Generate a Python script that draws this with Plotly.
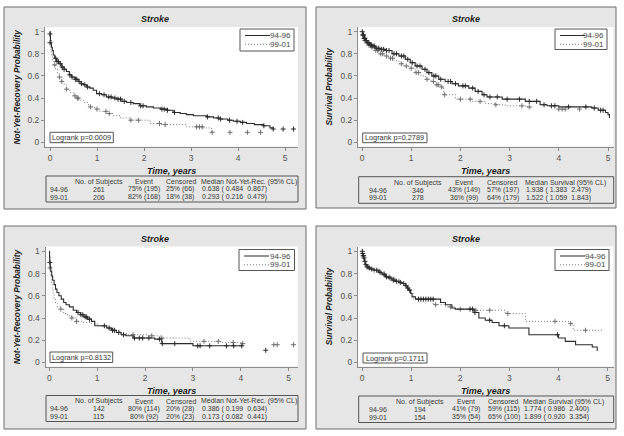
import plotly.graph_objects as go

W, H = 624, 436
FONT = "Liberation Sans, Arial, sans-serif"

# ---------------- data ----------------
groups = ["94-96", "99-01"]
titles = ["Stroke", "Stroke", "Stroke", "Stroke"]
y_titles = ["Not-Yet-Recovery Probability", "Survival Probability",
            "Not-Yet-Recovery Probability", "Survival Probability"]
x_title = "Time, years"
x_ticks = [0, 1, 2, 3, 4, 5]
y_ticks = [0, 0.2, 0.4, 0.6, 0.8, 1]
y_tick_text = ["0", "0.2", "0.4", "0.6", "0.8", "1"]
logrank = ["Logrank p=0.0009", "Logrank p=0.2789", "Logrank p=0.8132", "Logrank p=0.1711"]

# Panel 1 (top-left)
p1_t_a = [0, 0.005, 0.01, 0.02, 0.03, 0.05, 0.07, 0.1, 0.14, 0.19, 0.25, 0.3, 0.35, 0.41, 0.46, 0.53, 0.6, 0.66,
          0.71, 0.78, 0.85, 0.92, 0.99, 1.1, 1.2, 1.32, 1.42, 1.53, 1.63, 1.77, 1.91, 2.05, 2.2, 2.35, 2.48, 2.62,
          2.77, 2.9, 3.05, 3.33, 3.48, 3.62, 3.78, 3.9, 4.05, 4.18, 4.35, 4.54, 4.68, 4.75]
p1_s_a = [1, 0.96, 0.92, 0.89, 0.86, 0.83, 0.79, 0.76, 0.73, 0.71, 0.68, 0.66, 0.64, 0.61, 0.59, 0.57, 0.55, 0.53,
          0.52, 0.50, 0.49, 0.47, 0.44, 0.43, 0.41, 0.40, 0.39, 0.37, 0.36, 0.35, 0.33, 0.32, 0.31, 0.30, 0.29, 0.27,
          0.26, 0.25, 0.24, 0.23, 0.22, 0.21, 0.20, 0.19, 0.18, 0.17, 0.16, 0.15, 0.13, 0.12]
p1_ct_a = [0.0, 0.0, 0.12, 0.15, 0.18, 0.22, 0.26, 0.3, 0.42, 0.47, 0.54, 0.57, 0.62, 0.67, 0.74, 0.8, 1.05, 1.15,
           1.25, 1.3, 1.38, 1.45, 1.5, 1.58, 1.72, 1.93, 1.98, 2.38, 2.43, 2.5, 2.65, 3.35, 3.58, 3.63, 3.82, 3.98,
           4.1, 4.55, 4.75, 4.96, 5.18]
p1_cs_a = [0.98, 0.90, 0.76, 0.73, 0.73, 0.71, 0.68, 0.66, 0.61, 0.59, 0.57, 0.57, 0.55, 0.53, 0.52, 0.50, 0.44, 0.43,
           0.41, 0.41, 0.40, 0.39, 0.39, 0.37, 0.36, 0.33, 0.33, 0.30, 0.30, 0.29, 0.27, 0.23, 0.22, 0.21, 0.20, 0.19,
           0.18, 0.15, 0.12, 0.12, 0.12]
p1_t_b = [0, 0.005, 0.01, 0.02, 0.03, 0.05, 0.08, 0.12, 0.16, 0.2, 0.25, 0.3, 0.35, 0.42, 0.5, 0.56, 0.62, 0.72, 0.8,
          0.85, 0.95, 1.06, 1.2, 1.35, 1.5, 1.7, 2.13, 2.34, 2.9, 3.25, 3.44]
p1_s_b = [1, 0.94, 0.88, 0.83, 0.78, 0.74, 0.70, 0.66, 0.62, 0.59, 0.55, 0.52, 0.48, 0.45, 0.42, 0.40, 0.38, 0.36, 0.34,
          0.32, 0.30, 0.28, 0.26, 0.24, 0.22, 0.20, 0.17, 0.16, 0.14, 0.13, 0.09]
p1_ct_b = [0.1, 0.2, 0.25, 0.35, 0.53, 0.58, 0.6, 0.86, 1.0, 1.19, 1.26, 1.72, 1.88, 2.33, 2.45, 3.12, 3.18, 3.24,
           3.45, 3.83, 4.2, 4.48]
p1_cs_b = [0.70, 0.59, 0.55, 0.48, 0.42, 0.40, 0.40, 0.32, 0.30, 0.28, 0.26, 0.20, 0.20, 0.17, 0.16, 0.14, 0.14, 0.14,
           0.09, 0.09, 0.09, 0.09]

# Panel 2 (top-right)
p2_t_a = [0, 0.014, 0.04, 0.07, 0.1, 0.15, 0.2, 0.27, 0.37, 0.47, 0.61, 0.75, 0.88, 0.98, 1.08, 1.22, 1.32, 1.42,
          1.56, 1.69, 1.83, 1.96, 2.17, 2.3, 2.44, 2.54, 2.85, 3.32, 3.62, 3.76, 4.0, 4.67, 4.8, 4.95, 5.0, 5.03]
p2_s_a = [1, 0.97, 0.94, 0.92, 0.90, 0.88, 0.87, 0.85, 0.84, 0.83, 0.80, 0.78, 0.75, 0.72, 0.69, 0.66, 0.63, 0.60,
          0.57, 0.55, 0.53, 0.51, 0.49, 0.46, 0.43, 0.41, 0.39, 0.37, 0.34, 0.33, 0.32, 0.31, 0.29, 0.27, 0.25, 0.22]
p2_ct_a = [0.005, 0.02, 0.03, 0.05, 0.06, 0.08, 0.09, 0.12, 0.14, 0.17, 0.19, 0.22, 0.25, 0.3, 0.34, 0.4, 0.44, 0.5,
           0.55, 0.65, 0.7, 0.8, 0.85, 0.93, 1.02, 1.12, 1.18, 1.28, 1.36, 1.46, 1.5, 1.6, 1.75, 1.8, 1.9, 2.05, 2.1,
           2.25, 2.36, 2.48, 2.6, 2.75, 2.95, 3.2, 3.4, 3.55, 3.7, 3.85, 3.92, 4.2, 4.55, 4.72, 4.85, 4.9]
p2_cs_a = [1.0, 0.97, 0.97, 0.94, 0.94, 0.92, 0.92, 0.90, 0.90, 0.88, 0.88, 0.87, 0.87, 0.85, 0.85, 0.84, 0.84, 0.83,
           0.83, 0.80, 0.80, 0.78, 0.78, 0.75, 0.72, 0.69, 0.69, 0.66, 0.63, 0.60, 0.60, 0.57, 0.55, 0.55, 0.53, 0.51,
           0.51, 0.49, 0.46, 0.43, 0.41, 0.41, 0.39, 0.39, 0.37, 0.37, 0.34, 0.33, 0.33, 0.32, 0.32, 0.31, 0.29, 0.29]
p2_t_b = [0, 0.01, 0.03, 0.05, 0.08, 0.12, 0.17, 0.25, 0.34, 0.45, 0.54, 0.65, 0.75, 0.85, 0.95, 1.08, 1.2, 1.29, 1.4,
          1.49, 1.59, 1.66, 1.9, 2.24, 2.51, 2.7, 2.91, 3.32, 3.42]
p2_s_b = [1, 0.97, 0.94, 0.92, 0.90, 0.88, 0.86, 0.83, 0.80, 0.78, 0.76, 0.74, 0.71, 0.69, 0.67, 0.63, 0.60, 0.57, 0.55,
          0.52, 0.50, 0.43, 0.39, 0.37, 0.35, 0.34, 0.33, 0.32, 0.31]
p2_ct_b = [0.02, 0.04, 0.06, 0.1, 0.14, 0.2, 0.28, 0.32, 0.38, 0.42, 0.5, 0.58, 0.62, 0.8, 0.9, 1.0, 1.1, 1.15, 1.32,
           1.45, 1.52, 1.55, 1.62, 1.68, 2.0, 2.2, 2.4, 2.72, 3.25, 3.4, 4.0, 4.07, 4.13, 4.42]
p2_cs_b = [0.97, 0.94, 0.92, 0.90, 0.88, 0.86, 0.83, 0.83, 0.80, 0.80, 0.78, 0.76, 0.76, 0.71, 0.69, 0.67, 0.63, 0.63,
           0.57, 0.55, 0.52, 0.52, 0.50, 0.43, 0.39, 0.39, 0.37, 0.34, 0.33, 0.32, 0.30, 0.30, 0.30, 0.30]

# Panel 3 (bottom-left)
p3_t_a = [0, 0.005, 0.01, 0.02, 0.03, 0.05, 0.07, 0.1, 0.13, 0.16, 0.2, 0.25, 0.3, 0.35, 0.42, 0.5, 0.57, 0.65, 0.72,
          0.8, 0.88, 0.95, 1.2, 1.3, 1.4, 1.5, 1.6, 1.75, 2.2, 2.35, 3.0, 4.02]
p3_s_a = [1, 0.95, 0.90, 0.86, 0.82, 0.78, 0.74, 0.70, 0.66, 0.63, 0.60, 0.57, 0.54, 0.52, 0.50, 0.47, 0.45, 0.43, 0.41,
          0.39, 0.37, 0.33, 0.31, 0.29, 0.27, 0.25, 0.24, 0.22, 0.21, 0.17, 0.15, 0.15]
p3_ct_a = [0.012, 0.6, 0.66, 0.7, 0.75, 0.78, 0.84, 1.15, 1.25, 1.32, 1.36, 1.45, 1.55, 1.78, 1.88, 1.95, 2.08, 2.3,
           2.36, 2.62, 3.1, 3.15, 3.35, 3.7, 3.85, 4.02, 4.52]
p3_cs_a = [0.90, 0.45, 0.43, 0.43, 0.41, 0.41, 0.39, 0.33, 0.31, 0.29, 0.29, 0.27, 0.25, 0.22, 0.22, 0.22, 0.22, 0.21,
           0.17, 0.17, 0.15, 0.15, 0.15, 0.15, 0.15, 0.15, 0.11]
p3_t_b = [0, 0.005, 0.01, 0.02, 0.04, 0.06, 0.08, 0.1, 0.13, 0.17, 0.24, 0.3, 0.38, 0.47, 0.57, 0.7, 0.85, 1.0, 1.15,
          1.25, 1.35, 1.5, 1.65, 2.05, 2.32, 2.94, 3.6, 4.0, 4.05]
p3_s_b = [1, 0.92, 0.85, 0.78, 0.72, 0.66, 0.61, 0.57, 0.53, 0.50, 0.48, 0.44, 0.42, 0.40, 0.37, 0.36, 0.35, 0.33, 0.32,
          0.30, 0.28, 0.26, 0.25, 0.24, 0.22, 0.19, 0.18, 0.17, 0.17]
p3_ct_b = [0.015, 0.24, 0.47, 0.57, 1.75, 2.14, 2.35, 3.23, 3.53, 3.84, 4.04, 4.69, 4.76, 5.1]
p3_cs_b = [0.85, 0.48, 0.40, 0.37, 0.25, 0.24, 0.22, 0.19, 0.19, 0.18, 0.17, 0.16, 0.16, 0.16]

# Panel 4 (bottom-right)
p4_t_a = [0, 0.01, 0.02, 0.034, 0.05, 0.068, 0.1, 0.136, 0.18, 0.24, 0.34, 0.41, 0.48, 0.54, 0.61, 0.68, 0.75, 0.82,
          0.88, 0.92, 0.95, 0.99, 1.02, 1.09, 1.6, 1.7, 1.83, 1.9, 2.28, 2.38, 2.51, 2.65, 2.79, 2.99, 3.4, 4.0, 4.14,
          4.35, 4.69, 4.79, 4.81]
p4_s_a = [1, 0.98, 0.96, 0.94, 0.91, 0.88, 0.86, 0.85, 0.84, 0.83, 0.81, 0.79, 0.77, 0.76, 0.74, 0.73, 0.72, 0.71,
          0.69, 0.67, 0.65, 0.62, 0.59, 0.57, 0.54, 0.52, 0.49, 0.48, 0.45, 0.40, 0.38, 0.36, 0.33, 0.31, 0.25, 0.22,
          0.19, 0.16, 0.14, 0.11, 0.11]
p4_ct_a = [0.005, 0.015, 0.025, 0.03, 0.04, 0.06, 0.08, 0.12, 0.15, 0.2, 0.3, 0.37, 0.45, 0.5, 0.57, 0.64, 0.7, 0.78,
           0.85, 0.9, 0.93, 0.97, 1.15, 1.2, 1.25, 1.3, 1.35, 1.4, 1.45, 2.2, 2.25, 2.3, 2.6, 2.9, 3.98]
p4_cs_a = [1.0, 0.98, 0.96, 0.96, 0.94, 0.91, 0.88, 0.86, 0.85, 0.84, 0.83, 0.81, 0.79, 0.77, 0.76, 0.74, 0.73, 0.72,
           0.71, 0.69, 0.67, 0.65, 0.57, 0.57, 0.57, 0.57, 0.57, 0.57, 0.57, 0.48, 0.48, 0.45, 0.38, 0.33, 0.25]
p4_t_b = [0, 0.01, 0.02, 0.04, 0.06, 0.09, 0.13, 0.2, 0.3, 0.4, 0.5, 0.6, 0.7, 0.8, 0.88, 0.95, 1.0, 1.05, 1.45, 1.7,
          1.9, 2.28, 2.92, 3.33, 4.22, 4.3, 4.89]
p4_s_b = [1, 0.97, 0.94, 0.91, 0.88, 0.86, 0.84, 0.83, 0.82, 0.80, 0.77, 0.75, 0.73, 0.71, 0.69, 0.66, 0.62, 0.57,
          0.52, 0.50, 0.48, 0.47, 0.44, 0.37, 0.35, 0.29, 0.29]
p4_ct_b = [0.1, 0.25, 0.35, 0.45, 0.55, 0.65, 0.75, 1.5, 1.8, 2.0, 2.32, 2.6, 2.97, 3.93, 4.25, 4.55]
p4_cs_b = [0.86, 0.83, 0.82, 0.80, 0.77, 0.75, 0.73, 0.52, 0.50, 0.48, 0.47, 0.47, 0.44, 0.37, 0.35, 0.29]

# Summary tables
NB = "\u00a0"
tbl_headers = [
    ["", "No. of Subjects", "Event", "Censored", "Median Not-Yet-Rec. (95% CL)"],
    ["", "No. of Subjects", "Event", "Censored", "Median Survival (95% CL)"],
    ["", "No. of Subjects", "Event", "Censored", "Median Not-Yet-Rec. (95% CL)"],
    ["", "No. of Subjects", "Event", "Censored", "Median Survival (95% CL)"],
]
tbl_rows = [
    [["94-96", "261", "75% (195)", "25% (66)", "0.638 ( 0.484  0.867)"],
     ["99-01", "206", "82% (168)", "18% (38)", "0.293 ( 0.216  0.479)"]],
    [["94-96", "346", "43% (149)", "57% (197)", "1.938 ( 1.383  2.479)"],
     ["99-01", "278", "36% (99)", "64% (179)", "1.522 ( 1.059  1.843)"]],
    [["94-96", "142", "80% (114)", "20% (28)", "0.386 ( 0.199  0.634)"],
     ["99-01", "115", "80% (92)", "20% (23)", "0.173 ( 0.082  0.441)"]],
    [["94-96", "194", "41% (79)", "59% (115)", "1.774 ( 0.986  2.400)"],
     ["99-01", "154", "35% (54)", "65% (100)", "1.899 ( 0.920  3.354)"]],
]

curves = [
    (p1_t_a, p1_s_a, p1_ct_a, p1_cs_a, p1_t_b, p1_s_b, p1_ct_b, p1_cs_b),
    (p2_t_a, p2_s_a, p2_ct_a, p2_cs_a, p2_t_b, p2_s_b, p2_ct_b, p2_cs_b),
    (p3_t_a, p3_s_a, p3_ct_a, p3_cs_a, p3_t_b, p3_s_b, p3_ct_b, p3_cs_b),
    (p4_t_a, p4_s_a, p4_ct_a, p4_cs_a, p4_t_b, p4_s_b, p4_ct_b, p4_cs_b),
]

# ---------------- layout geometry (pixels) ----------------
panels = [
    dict(frame=(4, 7, 306, 209), plot=(45, 27, 298, 146.5), x0=50, x5=285, y0=142.3, y1=31.7,
         legend=(240, 29, 294, 51), lr=(50, 132.3, 113.3, 142.7), table=(46, 176, 298, 202),
         cols=[(48, "left"), (98.7, "center"), (144, "center"), (163.8, "left"), (200, "left")]),
    dict(frame=(316, 7, 616, 208), plot=(358, 27, 613.5, 146.5), x0=362, x5=608, y0=142.3, y1=31.7,
         legend=(555, 29, 607, 49.5), lr=(362.7, 133, 427, 142.7), table=(358.7, 176.7, 613.7, 203.3),
         cols=[(367, "left"), (417.5, "center"), (464, "center"), (485, "left"), (523.5, "left")]),
    dict(frame=(4, 226, 306, 429), plot=(45.5, 246.5, 297.7, 366.5), x0=49.3, x5=288.7, y0=362.5, y1=251.3,
         legend=(239, 249.5, 294.5, 270.5), lr=(50, 352, 112.7, 362.5), table=(46, 395.5, 298, 421.5),
         cols=[(48, "left"), (98.7, "center"), (144, "center"), (163.8, "left"), (200, "left")]),
    dict(frame=(316, 226, 616, 429), plot=(358, 246.5, 613.5, 366.5), x0=362, x5=607.5, y0=362.5, y1=251.3,
         legend=(555, 249.5, 609, 270.5), lr=(363, 353, 427, 363), table=(358.7, 396, 613.7, 422.5),
         cols=[(367, "left"), (420, "center"), (466, "center"), (485.5, "left"), (522, "left")]),
]


def px(x):
    return x / W


def py(y):
    return 1 - y / H


DARK = "#2b2b2b"
GRAY = "#7a7a7a"
SOLID_DASH = "solid"
DOT_DASH = "1px,2px"
MSIZE = 3.6

fig = go.Figure()
shapes = []
annotations = []
layout_axes = {}

for i, (pan, cv) in enumerate(zip(panels, curves)):
    k = i + 1
    xr = "x" if k == 1 else f"x{k}"
    yr = "y" if k == 1 else f"y{k}"
    xa = "xaxis" if k == 1 else f"xaxis{k}"
    ya = "yaxis" if k == 1 else f"yaxis{k}"
    L, T, R, B = pan["plot"]
    ppx = (pan["x5"] - pan["x0"]) / 5.0
    ppy = pan["y0"] - pan["y1"]
    layout_axes[xa] = dict(
        domain=[px(L), px(R)], anchor=yr,
        range=[(L - pan["x0"]) / ppx, (R - pan["x0"]) / ppx],
        tickvals=x_ticks, ticktext=[str(v) for v in x_ticks],
        showgrid=False, zeroline=False, showline=True, linecolor="#8c8c8c", linewidth=1,
        ticks="outside", ticklen=3, tickcolor="#8c8c8c", tickwidth=1,
        tickfont=dict(family=FONT, size=8.5, color="#555555"), fixedrange=True,
    )
    layout_axes[ya] = dict(
        domain=[py(B), py(T)], anchor=xr,
        range=[(pan["y0"] - B) / ppy, (pan["y0"] - T) / ppy],
        tickvals=y_ticks, ticktext=y_tick_text,
        showgrid=False, zeroline=False, showline=True, linecolor="#8c8c8c", linewidth=1,
        ticks="outside", ticklen=3, tickcolor="#8c8c8c", tickwidth=1,
        tickfont=dict(family=FONT, size=8.5, color="#555555"), fixedrange=True,
    )

    t_a, s_a, ct_a, cs_a, t_b, s_b, ct_b, cs_b = cv
    fig.add_trace(go.Scatter(x=t_b, y=s_b, mode="lines", line=dict(color=GRAY, width=1, dash=DOT_DASH, shape="hv"),
                             xaxis=xr, yaxis=yr, showlegend=False, hoverinfo="skip"))
    fig.add_trace(go.Scatter(x=ct_b, y=cs_b, mode="markers",
                             marker=dict(symbol="cross-thin", size=MSIZE, line=dict(color="#707070", width=1)),
                             xaxis=xr, yaxis=yr, showlegend=False, hoverinfo="skip"))
    fig.add_trace(go.Scatter(x=t_a, y=s_a, mode="lines", line=dict(color=DARK, width=1.1, shape="hv"),
                             xaxis=xr, yaxis=yr, showlegend=False, hoverinfo="skip"))
    fig.add_trace(go.Scatter(x=ct_a, y=cs_a, mode="markers",
                             marker=dict(symbol="cross-thin", size=MSIZE, line=dict(color=DARK, width=1)),
                             xaxis=xr, yaxis=yr, showlegend=False, hoverinfo="skip"))

    # frame and plot background
    fx0, fy0, fx1, fy1 = pan["frame"]
    shapes.append(dict(type="rect", xref="paper", yref="paper", x0=px(fx0), x1=px(fx1), y0=py(fy1), y1=py(fy0),
                       fillcolor="#e6e6e6", line=dict(color="#6a6a6a", width=1), layer="below"))
    shapes.append(dict(type="rect", xref="paper", yref="paper", x0=px(L), x1=px(R), y0=py(B), y1=py(T),
                       fillcolor="#ffffff", line=dict(width=0), layer="below"))

    # title, axis titles
    cx = (fx0 + fx1) / 2
    annotations.append(dict(text=f"<b><i>{titles[i]}</i></b>", x=px(cx), y=py(fy0 + 12.5), xref="paper",
                            yref="paper", showarrow=False, xanchor="center", yanchor="middle",
                            font=dict(family=FONT, size=9, color="#1e1e1e")))
    annotations.append(dict(text=f"<b><i>{x_title}</i></b>", x=px((L + R) / 2), y=py(B + 24.5), xref="paper",
                            yref="paper", showarrow=False, xanchor="center", yanchor="middle",
                            font=dict(family=FONT, size=9, color="#1e1e1e")))
    annotations.append(dict(text=f"<b><i>{y_titles[i]}</i></b>", x=px(fx0 + 12.8), y=py((T + B) / 2),
                            xref="paper", yref="paper", showarrow=False, xanchor="center", yanchor="middle",
                            textangle=-90, font=dict(family=FONT, size=8.3, color="#1e1e1e")))

    # legend box
    lx0, ly0, lx1, ly1 = pan["legend"]
    shapes.append(dict(type="rect", xref="paper", yref="paper", x0=px(lx0), x1=px(lx1), y0=py(ly1), y1=py(ly0),
                       fillcolor="#ffffff", line=dict(color="#555555", width=1)))
    for j, (dash, col) in enumerate([(SOLID_DASH, DARK), (DOT_DASH, GRAY)]):
        yy = ly0 + 6.5 + j * 8.8
        shapes.append(dict(type="line", xref="paper", yref="paper", x0=px(lx0 + 5), x1=px(lx0 + 30),
                           y0=py(yy), y1=py(yy), line=dict(color=col, width=1, dash=dash)))
        annotations.append(dict(text=groups[j], x=px(lx1 - 1.5), y=py(yy), xref="paper", yref="paper",
                                showarrow=False, xanchor="right", yanchor="middle",
                                font=dict(family=FONT, size=8, color="#444444")))

    # logrank box
    bx0, by0, bx1, by1 = pan["lr"]
    shapes.append(dict(type="rect", xref="paper", yref="paper", x0=px(bx0), x1=px(bx1), y0=py(by1), y1=py(by0),
                       fillcolor="#ffffff", line=dict(color="#555555", width=1)))
    annotations.append(dict(text=logrank[i], x=px((bx0 + bx1) / 2), y=py((by0 + by1) / 2), xref="paper",
                            yref="paper", showarrow=False, xanchor="center", yanchor="middle",
                            font=dict(family=FONT, size=7.3, color="#333333")))

    # summary table
    tx0, ty0, tx1, ty1 = pan["table"]
    shapes.append(dict(type="rect", xref="paper", yref="paper", x0=px(tx0), x1=px(tx1), y0=py(ty1), y1=py(ty0),
                       fillcolor="rgba(0,0,0,0)", line=dict(color="#555555", width=1)))
    rows = [tbl_headers[i]] + tbl_rows[i]
    for r, row in enumerate(rows):
        yy = ty0 + 5.8 + r * 7.6
        for c, cell in enumerate(row):
            if not cell:
                continue
            cxp, anc = pan["cols"][c]
            if r == 0 and c == 4:
                cxp -= 1
            annotations.append(dict(text=cell.replace(" ", NB), x=px(cxp), y=py(yy), xref="paper", yref="paper",
                                    showarrow=False, xanchor=anc, yanchor="middle",
                                    font=dict(family=FONT, size=7, color="#3a3a3a")))

fig.update_layout(
    width=W, height=H, margin=dict(l=0, r=0, t=0, b=0),
    paper_bgcolor="#ffffff", plot_bgcolor="#ffffff",
    showlegend=False, shapes=shapes, annotations=annotations,
    font=dict(family=FONT),
    **layout_axes,
)

fig.write_html("out.html", config={"displayModeBar": False},
               post_script="document.body.style.margin='0';document.body.style.padding='0';")
